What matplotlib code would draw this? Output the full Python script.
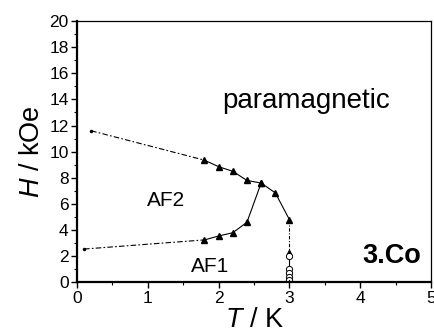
import matplotlib
matplotlib.use("Agg")
import matplotlib.pyplot as plt
from matplotlib.ticker import MultipleLocator

plt.rcParams['font.family'] = ['Liberation Sans', 'DejaVu Sans']
plt.rcParams['mathtext.fontset'] = 'custom'
plt.rcParams['mathtext.it'] = 'Liberation Sans:italic'
plt.rcParams['mathtext.rm'] = 'Liberation Sans'

# Phase boundary data
upper_T = [1.8, 2.0, 2.2, 2.4, 2.6, 2.8, 3.0]
upper_H = [9.35, 8.85, 8.5, 7.8, 7.6, 6.85, 4.8]
lower_T = [1.8, 2.0, 2.2, 2.4, 2.6]
lower_H = [3.25, 3.55, 3.8, 4.6, 7.6]
upper_ext_T = [0.2, 1.8]
upper_ext_H = [11.6, 9.35]
lower_ext_T = [0.1, 1.8]
lower_ext_H = [2.55, 3.25]
vert_T = [3.0, 3.0]
vert_H = [4.8, 2.35]
open_T = [3.0, 3.0, 3.0, 3.0, 3.0, 3.0]
open_H = [2.0, 1.0, 0.7, 0.4, 0.15, 0.0]

xticks = [0, 1, 2, 3, 4, 5]
yticks = [0, 2, 4, 6, 8, 10, 12, 14, 16, 18, 20]

fig = plt.figure(figsize=(4.35, 3.33), dpi=100)
ax = fig.add_axes([0.177, 0.152, 0.814, 0.785])

lw = 0.8
dd = (5, 2, 1.5, 2)
ax.plot(upper_ext_T, upper_ext_H, color='black', lw=lw, ls=(0, dd))
ax.plot(upper_ext_T[:1], upper_ext_H[:1], 'k.', ms=3)
ax.plot(lower_ext_T, lower_ext_H, color='black', lw=lw, ls=(0, dd))
ax.plot(lower_ext_T[:1], lower_ext_H[:1], 'k.', ms=3)
ax.plot(upper_T, upper_H, color='black', lw=lw, marker='^', ms=5)
ax.plot(lower_T, lower_H, color='black', lw=lw, marker='^', ms=5)
ax.plot(vert_T, vert_H, color='black', lw=lw, ls=(0, (3, 1.5, 1, 1.5)))
ax.plot(vert_T[1:], vert_H[1:], color='black', marker='^', ms=3, ls='none')
ax.plot(open_T[:-1], open_H[:-1], color='black', lw=lw, marker='o', ms=4.5,
        mfc='white', mew=0.7)
ax.plot(open_T[-2:], open_H[-2:], color='black', lw=lw)

ax.set_xlim(0, 5)
ax.set_ylim(0, 20)
ax.set_xticks(xticks)
ax.set_yticks(yticks)
ax.xaxis.set_minor_locator(MultipleLocator(0.5))
ax.yaxis.set_minor_locator(MultipleLocator(1))
ax.tick_params(which='major', direction='out', length=4, width=1, labelsize=12.5, pad=2)
ax.tick_params(which='minor', direction='out', length=2, width=0.8)

for s in ['left', 'bottom']:
    ax.spines[s].set_linewidth(1.6)
for s in ['top', 'right']:
    ax.spines[s].set_linewidth(0.9)

ax.set_xlabel(r'$\mathit{T}$ / K', fontsize=19.5, labelpad=1)
ax.set_ylabel(r'$\mathit{H}$ / kOe', fontsize=19.5, labelpad=3)

ax.text(3.23, 13.9, 'paramagnetic', fontsize=20, ha='center', va='center')
ax.text(1.26, 6.3, 'AF2', fontsize=15, ha='center', va='center')
ax.text(1.88, 1.25, 'AF1', fontsize=15, ha='center', va='center')
ax.text(4.45, 2.0, '3.Co', fontsize=19.5, fontweight='bold', ha='center', va='center')

fig.savefig('out.png', dpi=100)
